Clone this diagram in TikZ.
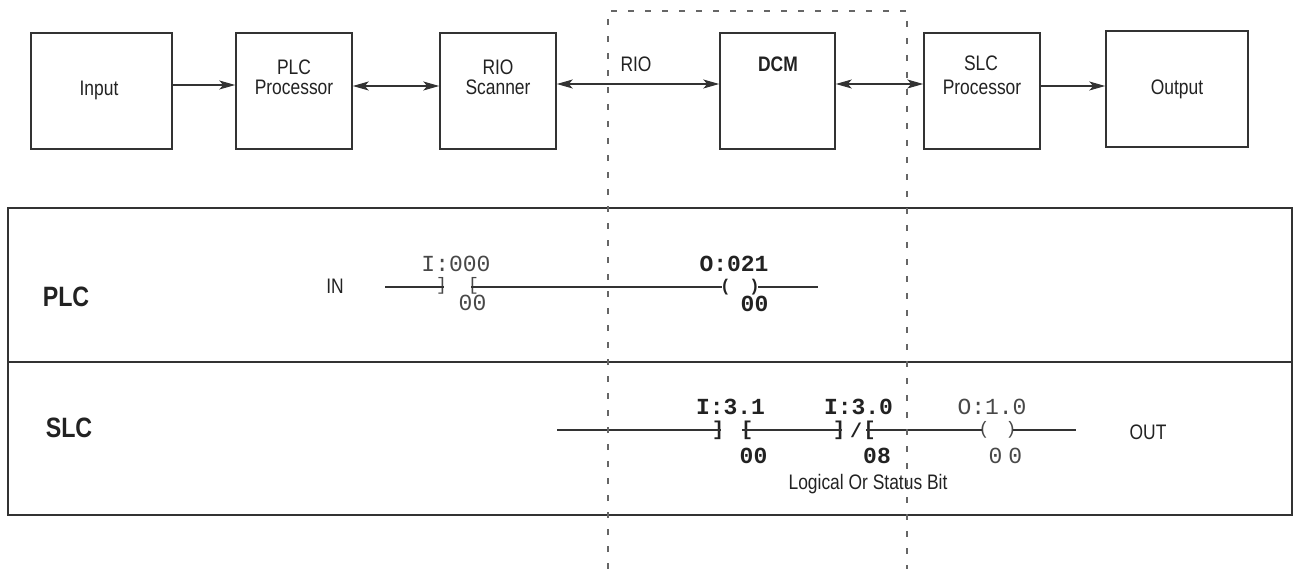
\documentclass[tikz,border=0pt]{standalone}
\usepackage{fontspec}
\setmainfont{Liberation Sans}[FakeStretch=0.83]
\newfontfamily\lmono{Liberation Mono}
\usetikzlibrary{arrows.meta}
\newcommand\fsz[1]{\fontsize{#1}{#1}\selectfont}
\definecolor{linec}{HTML}{333333}
\definecolor{txtc}{HTML}{222222}
\definecolor{monoc}{HTML}{484848}
\definecolor{dashc}{HTML}{666666}
\tikzset{
  myhead/.tip={Stealth[length=16pt,width=9pt,inset=4pt]},
  blk/.style={draw=linec, line width=1.5pt, inner sep=0pt, minimum height=116pt},
  sect/.style={draw=linec, line width=1.5pt, inner sep=0pt, minimum width=1284pt},
  lbl/.style={font=\fsz{21}, text=txtc, inner sep=0pt, anchor=base},
  blbl/.style={font=\bfseries\fsz{21}, text=txtc, inner sep=0pt, anchor=base},
  big/.style={font=\bfseries\fsz{28}, text=txtc, inner sep=0pt, anchor=base},
  mono/.style={font=\lmono\fsz{23}, text=monoc, inner sep=0pt, anchor=base},
  monob/.style={font=\lmono\bfseries\fsz{23}, text=txtc, inner sep=0pt, anchor=base},
  sym/.style={font=\lmono\fsz{18}, text=monoc, inner sep=0pt, anchor=center},
  symb/.style={font=\lmono\bfseries\fsz{20}, text=txtc, inner sep=0pt, anchor=center},
  symp/.style={font=\lmono\bfseries\fsz{17}, text=txtc, inner sep=0pt, anchor=center},
  arr/.style={draw=linec, line width=1.3pt, -myhead},
  darr/.style={draw=linec, line width=1.3pt, myhead-myhead},
  rung/.style={draw=linec, line width=1.2pt},
  dashbox/.style={draw=dashc, line width=1.2pt, dash pattern=on 6pt off 11pt},
}
\begin{document}
\begin{tikzpicture}[x=1pt,y=-1pt]
\useasboundingbox (0,0) rectangle (1294,569);

% ---- top row blocks
\node[blk, minimum width=141pt] (input) at (101.5,91) {};
\node[blk, minimum width=116pt] (plcp)  at (294,91) {};
\node[blk, minimum width=116pt] (rios)  at (498,91) {};
\node[blk, minimum width=115pt] (dcm)   at (777.5,91) {};
\node[blk, minimum width=116pt] (slcp)  at (982,91) {};
\node[blk, minimum width=142pt] (output) at (1177,89) {};

\node[lbl] (tinput) at (99,96) {Input};
\node[lbl] (tplc1) at (294,74.5) {PLC};
\node[lbl] (tplc2) at (294,94.5) {Processor};
\node[lbl] (trio1) at (498,74.5) {RIO};
\node[lbl] (trio2) at (498,94.5) {Scanner};
\node[blbl] (tdcm) at (778,71.5) {DCM};
\node[lbl] (tslc1) at (981,70.5) {SLC};
\node[lbl] (tslc2) at (982,94.5) {Processor};
\node[lbl] (toutput) at (1177,95) {Output};
\node[lbl] (triolink) at (636,71.5) {RIO};

\draw[arr]  (input.east |- 0,85) -- (plcp.west |- 0,85);
\draw[darr] (plcp.east |- 0,86) -- (rios.west |- 0,86);
\draw[darr] (dcm.west |- 0,84) -- (rios.east |- 0,84);
\draw[darr] (dcm.east |- 0,84) -- (slcp.west |- 0,84);
\draw[arr]  (slcp.east |- 0,86) -- (output.west |- 0,86);

% ---- ladder sections
\node[sect, minimum height=154pt] (plcsec) at (650,285) {};
\node[sect, minimum height=153pt] (slcsec) at (650,438.5) {};
\node[big] (tplc) at (66,307) {PLC};
\node[big] (tslc) at (69,437) {SLC};

% PLC rung
\node[lbl] (tin) at (335,294) {IN};
\coordinate (r1s) at (385,287);
\coordinate (r1a) at (444,287);
\coordinate (r1b) at (471,287);
\coordinate (r1c) at (722,287);
\coordinate (r1d) at (758,287);
\coordinate (r1e) at (818,287);
\node[sym]  (k1a) at (441.5,286) {]};
\node[sym]  (k1b) at (473.5,286) {[};
\node[symp] (k1c) at (725.5,287) {(};
\node[symp] (k1d) at (754.5,287) {)};
\draw[rung] (r1s) -- (r1a);
\draw[rung] (r1b) -- (r1c);
\draw[rung] (r1d) -- (r1e);
\node[mono]  (ti000) at (456,272) {I:000};
\node[mono]  (ti000b) at (472.5,311) {00};
\node[monob] (to021) at (734,272) {O:021};
\node[monob] (to021b) at (754.5,312) {00};

% SLC rung
\coordinate (r2s) at (557,430);
\coordinate (r2a) at (721,430);
\coordinate (r2b) at (742,430);
\coordinate (r2c) at (842,430);
\coordinate (r2d) at (866,430);
\coordinate (r2e) at (982,430);
\coordinate (r2f) at (1013,430);
\coordinate (r2g) at (1076,430);
\node[symb] (k2a) at (718,430) {]};
\node[symb] (k2b) at (747,430) {[};
\node[symb] (k2c) at (839,430) {]};
\node[symb] (k2s) at (856,430) {/};
\node[symb] (k2d) at (869.5,430) {[};
\node[sym]  (k2e) at (984,430) {(};
\node[sym]  (k2f) at (1011,430) {)};
\draw[rung] (r2s) -- (r2a);
\draw[rung] (r2b) -- (r2c);
\draw[rung] (r2d) -- (r2e);
\draw[rung] (r2f) -- (r2g);
\node[monob] (ti31) at (730.5,414) {I:3.1};
\node[monob] (ti30) at (858.5,414) {I:3.0};
\node[mono]  (to10) at (992,414) {O:1.0};
\node[monob] (ti31b) at (753.5,463) {00};
\node[monob] (ti30b) at (877,463) {08};
\node[mono]  (to10b) at (1005.5,463) {0\kern6pt0};
\node[lbl] (tlog) at (868,489.5) {Logical Or Status Bit};
\node[lbl] (tout) at (1148,439) {OUT};

% ---- dashed DCM boundary
\coordinate (dbl) at (608,569);
\coordinate (dtl) at (608,11);
\coordinate (dtr) at (907,11);
\coordinate (dbr) at (907,569);
\draw[dashbox] (dbl) -- (dtl) -- (dtr) -- (dbr);
\end{tikzpicture}
\end{document}
